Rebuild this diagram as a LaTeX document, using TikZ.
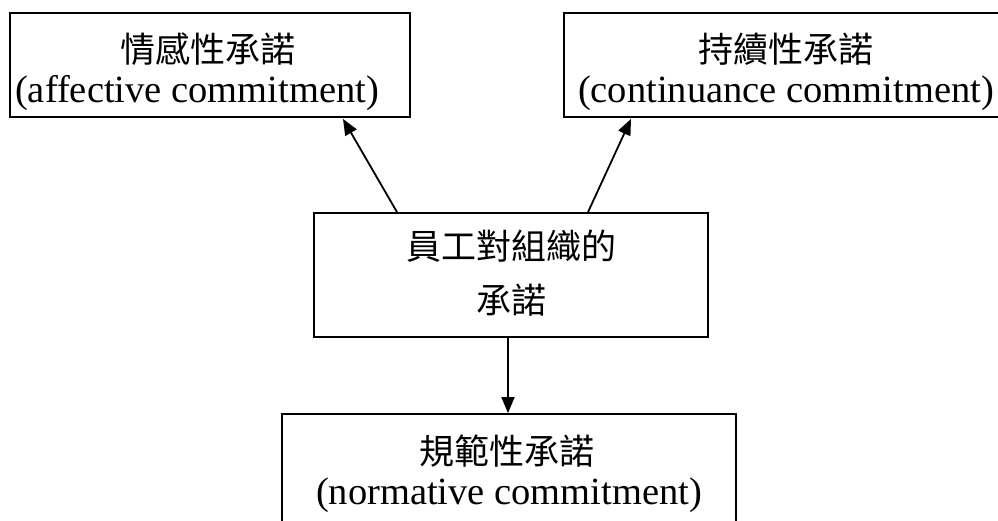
\documentclass[tikz,border=0pt]{standalone}
\usepackage{fontspec}
\setmainfont{Liberation Serif}
\newfontfamily\cjk{Noto Sans CJK TC}
\usetikzlibrary{arrows.meta}
\begin{document}
\begin{tikzpicture}[x=1pt,y=-1pt,
  box/.style={draw=black,line width=1.8pt,inner sep=0pt,rectangle},
  cjktext/.style={inner sep=0pt,anchor=base,font=\cjk\fontsize{35}{40}\selectfont},
  latntext/.style={inner sep=0pt,anchor=base,font=\fontsize{38.5}{40}\selectfont},
  arr/.style={line width=1.8pt,-{Triangle[length=16pt,width=13pt]}}]
\useasboundingbox (0,0) rectangle (998,521);
\clip (0,0) rectangle (998,521);
% boxes
\node[box,minimum width=400pt,minimum height=104pt] (aff) at (210,65) {};
\node[box,minimum width=446pt,minimum height=104pt] (cont) at (787,65) {};
\node[box,minimum width=394pt,minimum height=124pt] (mid) at (511,275) {};
\node[box,minimum width=454pt,minimum height=126pt] (norm) at (509,477) {};
% texts
\node[cjktext] (afft1) at (208,63) {情感性承諾};
\node[latntext] (afft2) at (197,103) {(affective commitment)};
\node[cjktext] (contt1) at (786,63) {持續性承諾};
\node[latntext] (contt2) at (786,103) {(continuance commitment)};
\node[cjktext] (midt1) at (511,260) {員工對組織的};
\node[cjktext] (midt2) at (511,313) {承諾};
\node[cjktext] (normt1) at (507,464) {規範性承諾};
\node[latntext] (normt2) at (509,504) {(normative commitment)};
% connectors
\draw[arr] ([xshift=-114pt]mid.north) -- ([xshift=133pt,yshift=-1pt]aff.south);
\draw[arr] ([xshift=77pt]mid.north) -- ([xshift=-156pt,yshift=-1pt]cont.south);
\draw[arr] ([xshift=-3pt]mid.south) -- ([xshift=-1pt]norm.north);
\end{tikzpicture}
\end{document}
